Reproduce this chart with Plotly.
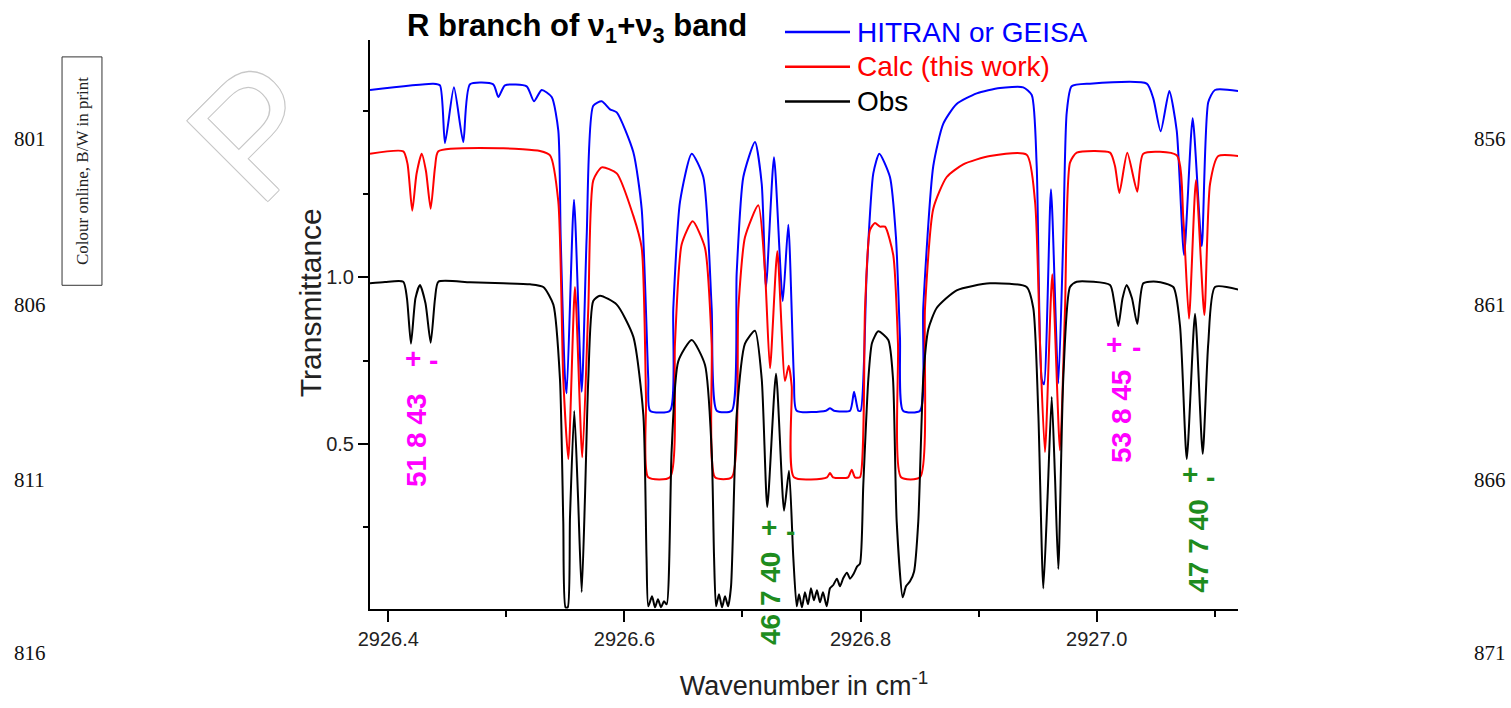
import plotly.graph_objects as go

# ---------------- data ----------------
hitran_wn = [
    2926.3845, 2926.4381, 2926.4438, 2926.4480, 2926.4556, 2926.4635, 2926.4692, 2926.4889, 2926.4932, 2926.4988,
    2926.5172, 2926.5234, 2926.5299, 2926.5384, 2926.5440, 2926.5460, 2926.5497, 2926.5511, 2926.5573, 2926.5638,
    2926.5680, 2926.5736, 2926.5808, 2926.5878, 2926.5935, 2926.6075, 2926.6146, 2926.6202, 2926.6217, 2926.6386,
    2926.6414, 2926.6471, 2926.6570, 2926.6668, 2926.6739, 2926.6782, 2926.6909, 2926.6951, 2926.7007, 2926.7106,
    2926.7163, 2926.7199, 2926.7267, 2926.7341, 2926.7388, 2926.7436, 2926.7459, 2926.7707, 2926.7741, 2926.7775,
    2926.7911, 2926.7945, 2926.7981, 2926.8001, 2926.8052, 2926.8108, 2926.8159, 2926.8249, 2926.8300, 2926.8334,
    2926.8360, 2926.8504, 2926.8531, 2926.8616, 2926.8701, 2926.8814, 2926.8984, 2926.9181, 2926.9378, 2926.9450,
    2926.9492, 2926.9534, 2926.9554, 2926.9613, 2926.9675, 2926.9717, 2926.9746, 2926.9788, 2926.9943, 2927.0424,
    2927.0480, 2927.0542, 2927.0615, 2927.0678, 2927.0740, 2927.0813, 2927.0890, 2927.0945, 2927.1002, 2927.1200,
]
hitran_tr = [
    1.562, 1.581, 1.576, 1.403, 1.570, 1.406, 1.579, 1.579, 1.541, 1.576,
    1.573, 1.528, 1.562, 1.541, 1.440, 1.120, 0.696, 0.652, 1.233, 0.657,
    1.120, 1.515, 1.528, 1.504, 1.495, 1.376, 1.206, 0.696, 0.600, 0.600,
    0.908, 1.227, 1.371, 1.301, 0.908, 0.600, 0.600, 1.014, 1.301, 1.406,
    1.280, 0.971, 1.360, 0.929, 1.158, 0.695, 0.600, 0.600, 0.607, 0.600,
    0.600, 0.657, 0.600, 0.600, 1.014, 1.312, 1.371, 1.301, 1.120, 0.818,
    0.600, 0.600, 0.908, 1.334, 1.461, 1.520, 1.552, 1.568, 1.570, 1.547,
    1.334, 0.695, 0.679, 1.264, 0.682, 1.120, 1.493, 1.573, 1.581, 1.581,
    1.536, 1.438, 1.559, 1.440, 1.067, 1.477, 1.094, 1.525, 1.562, 1.559,
]

calc_wn = [
    2926.3845, 2926.4127, 2926.4163, 2926.4203, 2926.4239, 2926.4283, 2926.4319, 2926.4359, 2926.4396, 2926.4424,
    2926.4974, 2926.5285, 2926.5370, 2926.5440, 2926.5482, 2926.5525, 2926.5581, 2926.5643, 2926.5694, 2926.5736,
    2926.5808, 2926.5935, 2926.6075, 2926.6146, 2926.6183, 2926.6202, 2926.6386, 2926.6428, 2926.6485, 2926.6578,
    2926.6682, 2926.6739, 2926.6767, 2926.6909, 2926.6965, 2926.7021, 2926.7134, 2926.7191, 2926.7233, 2926.7295,
    2926.7360, 2926.7391, 2926.7417, 2926.7436, 2926.7716, 2926.7741, 2926.7767, 2926.7894, 2926.7925, 2926.7953,
    2926.7995, 2926.8038, 2926.8080, 2926.8122, 2926.8165, 2926.8207, 2926.8277, 2926.8317, 2926.8343, 2926.8504,
    2926.8546, 2926.8616, 2926.8730, 2926.8870, 2926.9096, 2926.9407, 2926.9478, 2926.9520, 2926.9562, 2926.9624,
    2926.9689, 2926.9732, 2926.9774, 2926.9831, 2927.0113, 2927.0155, 2927.0192, 2927.0259, 2927.0344, 2927.0395,
    2927.0678, 2927.0734, 2927.0782, 2927.0841, 2927.0912, 2927.0960, 2927.1030, 2927.1200,
]
calc_tr = [
    1.371, 1.378, 1.340, 1.200, 1.310, 1.371, 1.319, 1.206, 1.331, 1.378,
    1.387, 1.379, 1.366, 1.227, 0.695, 0.455, 0.971, 0.460, 0.908, 1.291,
    1.330, 1.312, 1.185, 1.089, 0.639, 0.400, 0.400, 0.801, 1.099, 1.168,
    1.089, 0.801, 0.400, 0.400, 0.908, 1.120, 1.216, 1.014, 0.727, 1.078,
    0.689, 0.735, 0.673, 0.400, 0.400, 0.413, 0.400, 0.400, 0.423, 0.400,
    0.400, 0.908, 1.142, 1.163, 1.152, 1.152, 1.067, 0.801, 0.400, 0.400,
    0.908, 1.206, 1.301, 1.339, 1.364, 1.368, 1.227, 0.801, 0.476, 1.009,
    0.481, 0.908, 1.344, 1.374, 1.374, 1.334, 1.253, 1.374, 1.257, 1.371,
    1.366, 1.174, 0.876, 1.291, 0.887, 1.280, 1.364, 1.364,
]

obs_wn = [
    2926.3845, 2926.3972, 2926.4127, 2926.4158, 2926.4192, 2926.4230, 2926.4268, 2926.4315, 2926.4359, 2926.4396,
    2926.4424, 2926.4692, 2926.4974, 2926.5200, 2926.5313, 2926.5398, 2926.5454, 2926.5482, 2926.5501, 2926.5520,
    2926.5539, 2926.5575, 2926.5607, 2926.5638, 2926.5666, 2926.5694, 2926.5736, 2926.5793, 2926.5935, 2926.6075,
    2926.6160, 2926.6187, 2926.6202, 2926.6234, 2926.6259, 2926.6284, 2926.6310, 2926.6335, 2926.6358, 2926.6400,
    2926.6456, 2926.6570, 2926.6682, 2926.6739, 2926.6759, 2926.6776, 2926.6801, 2926.6827, 2926.6852, 2926.6878,
    2926.6903, 2926.6951, 2926.7021, 2926.7106, 2926.7163, 2926.7210, 2926.7284, 2926.7352, 2926.7394, 2926.7430,
    2926.7459, 2926.7479, 2926.7504, 2926.7529, 2926.7555, 2926.7580, 2926.7605, 2926.7631, 2926.7656, 2926.7682,
    2926.7713, 2926.7741, 2926.7769, 2926.7800, 2926.7826, 2926.7854, 2926.7885, 2926.7911, 2926.7939, 2926.7970,
    2926.7995, 2926.8023, 2926.8066, 2926.8097, 2926.8150, 2926.8235, 2926.8275, 2926.8306, 2926.8357, 2926.8385,
    2926.8419, 2926.8453, 2926.8489, 2926.8531, 2926.8574, 2926.8645, 2926.8814, 2926.9096, 2926.9407, 2926.9463,
    2926.9506, 2926.9548, 2926.9584, 2926.9619, 2926.9647, 2926.9675, 2926.9717, 2926.9774, 2926.9831, 2927.0113,
    2927.0147, 2927.0183, 2927.0219, 2927.0254, 2927.0299, 2927.0344, 2927.0395, 2927.0508, 2927.0649, 2927.0706,
    2927.0763, 2927.0833, 2927.0898, 2927.0945, 2927.1002, 2927.1200,
]
obs_tr = [
    0.982, 0.986, 0.987, 0.937, 0.801, 0.937, 0.977, 0.922, 0.804, 0.937,
    0.987, 0.985, 0.982, 0.979, 0.971, 0.918, 0.695, 0.268, 0.010, 0.010,
    0.281, 0.599, 0.341, 0.056, 0.341, 0.695, 0.929, 0.945, 0.918, 0.822,
    0.588, 0.162, 0.013, 0.043, 0.010, 0.034, 0.010, 0.028, 0.019, 0.481,
    0.748, 0.812, 0.738, 0.481, 0.162, 0.013, 0.049, 0.010, 0.043, 0.013,
    0.073, 0.588, 0.801, 0.840, 0.695, 0.311, 0.711, 0.300, 0.420, 0.162,
    0.013, 0.049, 0.010, 0.055, 0.019, 0.067, 0.031, 0.061, 0.025, 0.055,
    0.013, 0.067, 0.077, 0.096, 0.073, 0.098, 0.114, 0.096, 0.109, 0.132,
    0.141, 0.375, 0.695, 0.803, 0.838, 0.812, 0.695, 0.268, 0.040, 0.073,
    0.088, 0.117, 0.268, 0.695, 0.844, 0.908, 0.961, 0.982, 0.971, 0.908,
    0.588, 0.067, 0.341, 0.641, 0.401, 0.125, 0.695, 0.971, 0.987, 0.977,
    0.929, 0.854, 0.937, 0.977, 0.937, 0.860, 0.982, 0.987, 0.971, 0.854,
    0.455, 0.891, 0.471, 0.801, 0.971, 0.963,
]

series_names = ["HITRAN or GEISA", "Calc (this work)", "Obs"]
series_colors = ["#0000ff", "#ff0000", "#000000"]

x_tick_vals = [2926.4, 2926.6, 2926.8, 2927.0]
x_tick_text = ["2926.4", "2926.6", "2926.8", "2927.0"]
x_minor_vals = [2926.5, 2926.7, 2926.9, 2927.1]
y_tick_vals = [0.5, 1.0]
y_tick_text = ["0.5", "1.0"]
y_minor_vals = [0.25, 0.75, 1.25, 1.5]

# line assignment labels: text, wavenumber, transmittance, colour
assign_labels = ["51 8 43", "53 8 45", "46 7 40", "47 7 40"]
assign_wn = [2926.424, 2927.0212, 2926.7233, 2927.0867]
assign_tr = [0.511, 0.583, 0.035, 0.192]
assign_colors = ["#ff00ff", "#ff00ff", "#1e8c1e", "#1e8c1e"]
# parity marks (+/-) under each doublet
parity_text = ["+", "-", "+", "-", "+", "-", "+", "-"]
parity_wn = [2926.4210, 2926.4387, 2927.0147, 2927.0337, 2926.7225, 2926.7403, 2927.0790, 2927.0968]
parity_tr = [0.758, 0.752, 0.800, 0.791, 0.249, 0.237, 0.410, 0.400]
parity_colors = ["#ff00ff", "#ff00ff", "#ff00ff", "#ff00ff", "#1e8c1e", "#1e8c1e", "#1e8c1e", "#1e8c1e"]

left_line_numbers = ["801", "806", "811", "816"]
right_line_numbers = ["856", "861", "866", "871"]
line_number_y = [0.8255, 0.5340, 0.2269, -0.0768]

# legend rows (paper y of each row)
legend_row_y = [1.0140, 0.9529, 0.8918]

FONT = "Arial, Liberation Sans, sans-serif"
SERIF = "Liberation Serif, Times New Roman, serif"

fig = go.Figure()
for wn, tr, name, col in zip([hitran_wn, calc_wn, obs_wn], [hitran_tr, calc_tr, obs_tr],
                             series_names, series_colors):
    fig.add_trace(go.Scatter(
        x=wn, y=tr, mode="lines", name=name, showlegend=False,
        line=dict(color=col, width=2, shape="spline", smoothing=0.6),
    ))

annotations = []
shapes = []
# title
annotations.append(dict(
    xref="paper", yref="paper", x=0.040, y=1.0209, xanchor="left", yanchor="middle",
    text="R branch of ν<sub>1</sub>+ν<sub>3</sub> band", showarrow=False,
    font=dict(family=FONT, size=31, color="#000", weight="bold"),
))
# legend (line sample + coloured text)
for name, col, ly in zip(series_names, series_colors, legend_row_y):
    shapes.append(dict(type="line", xref="paper", yref="paper", x0=0.4781, x1=0.5530,
                       y0=ly, y1=ly, line=dict(color=col, width=2.5)))
    annotations.append(dict(
        xref="paper", yref="paper", x=0.5588, y=ly, xanchor="left", yanchor="middle",
        text=name, showarrow=False, font=dict(family=FONT, size=28, color=col),
    ))
# y axis title placed as in the reference (slightly above the axis centre)
annotations.append(dict(
    xref="paper", yref="paper", x=-0.0691, y=0.5375, xanchor="center", yanchor="middle",
    text="Transmittance", textangle=-90, showarrow=False,
    font=dict(family=FONT, size=30, color="#222"),
))
for t, xw, yt, c in zip(assign_labels, assign_wn, assign_tr, assign_colors):
    annotations.append(dict(
        xref="x", yref="y", x=xw, y=yt, text=t, textangle=-90, showarrow=False,
        xanchor="center", yanchor="middle",
        font=dict(family=FONT, size=28, color=c, weight="bold"),
    ))
for t, xw, yt, c in zip(parity_text, parity_wn, parity_tr, parity_colors):
    annotations.append(dict(
        xref="x", yref="y", x=xw, y=yt, text=t, showarrow=False,
        xanchor="center", yanchor="middle",
        font=dict(family=FONT, size=28, color=c, weight="bold"),
    ))
for t, yy in zip(left_line_numbers, line_number_y):
    annotations.append(dict(
        xref="paper", yref="paper", x=-0.392, y=yy, text=t, showarrow=False,
        xanchor="center", yanchor="middle",
        font=dict(family=SERIF, size=21, color="#111"),
    ))
for t, yy in zip(right_line_numbers, line_number_y):
    annotations.append(dict(
        xref="paper", yref="paper", x=1.290, y=yy, text=t, showarrow=False,
        xanchor="center", yanchor="middle",
        font=dict(family=SERIF, size=21, color="#111"),
    ))
annotations.append(dict(
    xref="paper", yref="paper", x=-0.3318, y=0.7696, text="Colour online, B/W in print",
    textangle=-90, showarrow=False, xanchor="center", yanchor="middle",
    font=dict(family=SERIF, size=17, color="#222"),
))
# faint proof watermark in the margin
annotations.append(dict(
    xref="paper", yref="paper", x=-0.1300, y=0.8394, text="P", textangle=-45, showarrow=False,
    xanchor="center", yanchor="middle",
    font=dict(family=FONT, size=165, color="#ffffff",
              shadow="1px 1px 0 #c8c8c8, -1px -1px 0 #c8c8c8, 1px -1px 0 #c8c8c8, -1px 1px 0 #c8c8c8"),
))

shapes.append(dict(
    type="rect", xref="paper", yref="paper", x0=-0.3548, x1=-0.3088, y0=0.5689, y1=0.9703,
    line=dict(color="#333", width=1), fillcolor="rgba(0,0,0,0)",
))

fig.update_layout(
    width=1511, height=708, autosize=False,
    margin=dict(l=370, r=273, t=40, b=95, pad=0),
    paper_bgcolor="white", plot_bgcolor="white",
    font=dict(family=FONT, color="#222"),
    showlegend=False,
    annotations=annotations, shapes=shapes,
    xaxis=dict(
        range=[2926.3845, 2927.1197], showgrid=False, zeroline=False,
        showline=True, linecolor="#000", linewidth=2, mirror=False,
        ticks="outside", ticklen=11, tickwidth=1.5, tickcolor="#000",
        tickmode="array", tickvals=x_tick_vals, ticktext=x_tick_text,
        tickfont=dict(family=FONT, size=20, color="#222"),
        minor=dict(tickmode="array", tickvals=x_minor_vals, ticks="outside",
                   ticklen=6, tickwidth=1.5, tickcolor="#000", showgrid=False),
        title=dict(text="Wavenumber in cm<sup>-1</sup>", standoff=27,
                   font=dict(family=FONT, size=27, color="#222")),
    ),
    yaxis=dict(
        range=[0.005, 1.712], showgrid=False, zeroline=False,
        showline=True, linecolor="#000", linewidth=2, mirror=False,
        ticks="outside", ticklen=10, tickwidth=1.5, tickcolor="#000",
        tickmode="array", tickvals=y_tick_vals, ticktext=y_tick_text,
        tickfont=dict(family=FONT, size=20, color="#222"),
        minor=dict(tickmode="array", tickvals=y_minor_vals, ticks="outside",
                   ticklen=5, tickwidth=1.5, tickcolor="#000", showgrid=False),
    ),
)

fig.write_html("out.html", config={"displayModeBar": False},
               post_script="document.body.style.margin='0px';")
